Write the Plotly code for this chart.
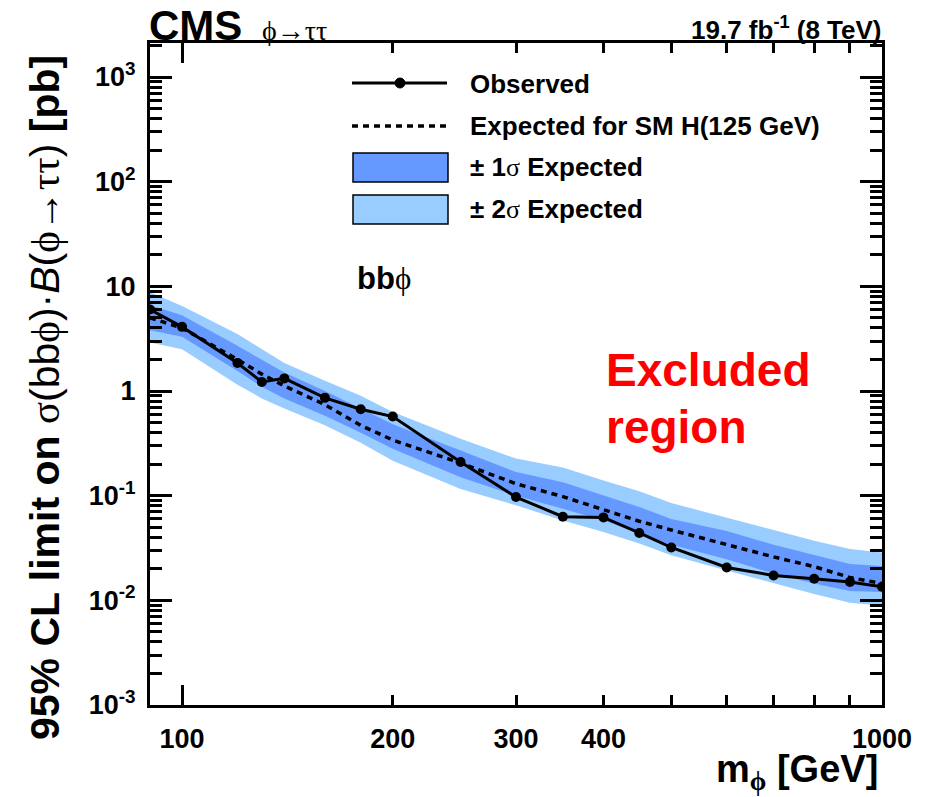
import plotly.graph_objects as go

# Higgs mass points [GeV]
mass = [90, 100, 120, 130, 140, 160, 180, 200, 250, 300, 350, 400, 450, 500, 600, 700, 800, 900, 1000]

# 95% CL upper limits on sigma(bb phi) x B(phi -> tautau) [pb]
observed = [6.0, 4.1, 1.85, 1.22, 1.32, 0.86, 0.67, 0.57, 0.21, 0.097, 0.063, 0.062, 0.044, 0.032, 0.0206, 0.0173, 0.0161, 0.0150, 0.0135]
expected = [5.0, 4.0, 2.0, 1.45, 1.12, 0.74, 0.47, 0.34, 0.205, 0.13, 0.098, 0.074, 0.057, 0.047, 0.034, 0.026, 0.021, 0.0165, 0.0145]
exp_1s_up = [6.6, 5.3, 2.7, 2.0, 1.5, 1.0, 0.68, 0.48, 0.27, 0.168, 0.134, 0.10, 0.078, 0.060, 0.046, 0.034, 0.027, 0.0223, 0.0213]
exp_1s_dn = [3.8, 3.3, 1.55, 1.1, 0.85, 0.58, 0.40, 0.28, 0.15, 0.10, 0.075, 0.058, 0.044, 0.034, 0.0247, 0.018, 0.0145, 0.0123, 0.012]
exp_2s_up = [8.8, 6.5, 3.5, 2.5, 1.85, 1.25, 0.90, 0.63, 0.35, 0.226, 0.186, 0.14, 0.11, 0.085, 0.062, 0.047, 0.037, 0.031, 0.0286]
exp_2s_dn = [2.9, 2.5, 1.15, 0.85, 0.68, 0.47, 0.32, 0.216, 0.116, 0.081, 0.058, 0.045, 0.035, 0.027, 0.0193, 0.0145, 0.0115, 0.0095, 0.0089]

# Axis ticks
x_tick_vals = [100, 200, 300, 400, 500, 600, 700, 800, 900, 1000]
x_tick_text = ["<b>100</b>", "<b>200</b>", "<b>300</b>", "<b>400</b>", "", "", "", "", "", "<b>1000</b>"]
x_long_vals = [100, 1000]
y_major_vals = [1e-3, 1e-2, 1e-1, 1, 10, 100, 1000]
y_major_text = ["<b>10<sup>-3</sup></b>", "<b>10<sup>-2</sup></b>", "<b>10<sup>-1</sup></b>",
                "<b>1</b>", "<b>10</b>", "<b>10<sup>2</sup></b>", "<b>10<sup>3</sup></b>"]
y_minor_vals = [m * 10 ** e for e in range(-3, 4) for m in range(2, 10) if m * 10 ** e < 2100]

X_RANGE = [1.9542, 3.0]
Y_RANGE = [-3.0, 3.325]

SANS = "Liberation Sans, Arial, sans-serif"
SERIF = "Liberation Serif, DejaVu Serif, serif"
PHI = "\u03d5"
DARK = "#6699FF"
LIGHT = "#99CCFF"

W, H = 926, 797
L, R, T, B = 150, 882, 43, 705


def fx(p):
    return (p - L) / (R - L)


def fy(p):
    return (B - p) / (B - T)


def serif(s):
    return "<span style='font-family:Liberation Serif, DejaVu Serif, serif'>" + s + "</span>"


fig = go.Figure()

# +-2 sigma band
fig.add_trace(go.Scatter(x=mass, y=exp_2s_dn, mode="lines", line=dict(width=0, color=LIGHT),
                         showlegend=False, hoverinfo="skip"))
fig.add_trace(go.Scatter(x=mass, y=exp_2s_up, mode="lines", line=dict(width=0, color=LIGHT),
                         fill="tonexty", fillcolor=LIGHT, showlegend=False, hoverinfo="skip"))
# +-1 sigma band
fig.add_trace(go.Scatter(x=mass, y=exp_1s_dn, mode="lines", line=dict(width=0, color=DARK),
                         showlegend=False, hoverinfo="skip"))
fig.add_trace(go.Scatter(x=mass, y=exp_1s_up, mode="lines", line=dict(width=0, color=DARK),
                         fill="tonexty", fillcolor=DARK, showlegend=False, hoverinfo="skip"))
# expected
fig.add_trace(go.Scatter(x=mass, y=expected, mode="lines",
                         line=dict(color="black", width=3.5, dash="6px,5px"), showlegend=False))
# observed
fig.add_trace(go.Scatter(x=mass, y=observed, mode="lines+markers",
                         line=dict(color="black", width=3),
                         marker=dict(color="black", size=10), showlegend=False))
# anchor trace for the overlay axes carrying the long / minor ticks
fig.add_trace(go.Scatter(x=[100], y=[1], xaxis="x2", yaxis="y2", mode="markers",
                         marker=dict(opacity=0), showlegend=False, hoverinfo="skip"))

tickfont = dict(family=SANS, size=27, color="black")
common = dict(showgrid=False, zeroline=False, tickcolor="black", tickwidth=3, ticks="inside",
              tickmode="array")

fig.update_layout(
    width=W, height=H,
    margin=dict(l=L, r=W - R, t=T, b=H - B, pad=0),
    paper_bgcolor="white", plot_bgcolor="white",
    font=dict(family=SANS, color="black"),
    xaxis=dict(type="log", range=X_RANGE, showline=True, linewidth=3, linecolor="black",
               mirror="ticks", ticklen=10, tickvals=x_tick_vals, ticktext=x_tick_text,
               tickfont=tickfont, ticklabelstandoff=8, **common),
    xaxis2=dict(type="log", range=X_RANGE, overlaying="x", side="bottom", anchor="y",
                showline=False, mirror="ticks", ticklen=20, tickvals=x_long_vals,
                showticklabels=False, **common),
    yaxis=dict(type="log", range=Y_RANGE, showline=True, linewidth=3, linecolor="black",
               mirror="ticks", ticklen=22, tickvals=y_major_vals, ticktext=y_major_text,
               tickfont=tickfont, ticklabelstandoff=6, **common),
    yaxis2=dict(type="log", range=Y_RANGE, overlaying="y", side="left", anchor="x",
                showline=False, mirror="ticks", ticklen=12, tickvals=y_minor_vals,
                showticklabels=False, **common),
)

annotations = []


def text(s, x, y, size, xanchor="left", yanchor="middle", color="black", angle=0, family=SANS):
    annotations.append(dict(text=s, x=fx(x), y=fy(y), xref="paper", yref="paper",
                            xanchor=xanchor, yanchor=yanchor, showarrow=False,
                            textangle=angle, font=dict(family=family, size=size, color=color)))


# header
text("<b>CMS</b>", 147, 26, 42)
text(PHI + "→ττ", 260, 30, 28, family=SERIF)
text("<b>19.7 fb<sup>-1</sup> (8 TeV)</b>", 884, 28, 26, xanchor="right")

# legend
text("<b>Observed</b>", 468, 84, 26)
text("<b>Expected for SM H(125 GeV)</b>", 468, 126, 26)
text("<b>± 1</b>" + serif("σ") + "<b> Expected</b>", 468, 167, 26)
text("<b>± 2</b>" + serif("σ") + "<b> Expected</b>", 468, 209, 26)

# labels inside the frame
text("<b>bb</b>" + serif(PHI), 355, 278, 31)
text("<b>Excluded</b>", 604, 370, 46, color="#FF0000")
text("<b>region</b>", 604, 427, 46, color="#FF0000")

# axis titles
text("<b>m<sub>" + serif(PHI) + "</sub> [GeV]</b>", 880, 772, 38, xanchor="right")
text("<b>95% CL limit on </b>" + serif("σ") + "(bb" + serif(PHI) + ")·<i>B</i>("
     + serif(PHI + "→ττ") + ") <b>[pb]</b>",
     45, 398, 41, xanchor="center", angle=-90)

fig.update_layout(annotations=annotations)

# legend symbols
legend_shapes = [
    dict(type="line", x0=fx(352), x1=fx(447), y0=fy(83), y1=fy(83),
         line=dict(color="black", width=3)),
    dict(type="circle", x0=fx(395), x1=fx(405), y0=fy(78), y1=fy(88),
         fillcolor="black", line=dict(color="black", width=1)),
    dict(type="line", x0=fx(352), x1=fx(447), y0=fy(126), y1=fy(126),
         line=dict(color="black", width=3.5, dash="6px,5px")),
    dict(type="rect", x0=fx(353), x1=fx(448), y0=fy(182), y1=fy(153),
         fillcolor=DARK, line=dict(color="black", width=1.5)),
    dict(type="rect", x0=fx(353), x1=fx(448), y0=fy(224), y1=fy(195),
         fillcolor=LIGHT, line=dict(color="black", width=1.5)),
]
for s in legend_shapes:
    s.update(xref="paper", yref="paper", layer="above")
fig.update_layout(shapes=legend_shapes)

fig.write_html("out.html")
